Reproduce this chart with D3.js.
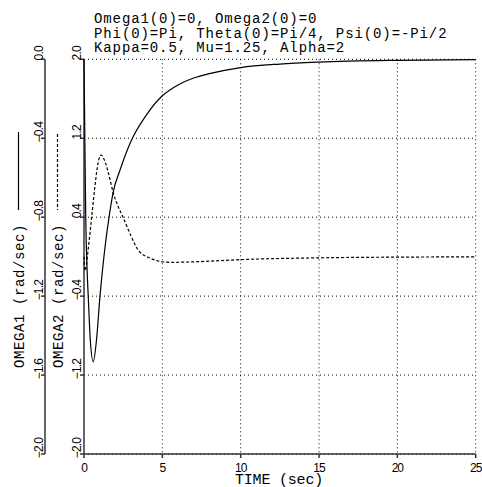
<!DOCTYPE html>
<html>
<head>
<meta charset="UTF-8">
<script src="https://cdn.jsdelivr.net/npm/d3@7"></script>
<style>
  body { margin: 0; background: #fff; }
  text { font-family: "Liberation Mono", monospace; fill: #000; }
  text.tick { font-family: "Liberation Sans", sans-serif; }
</style>
</head>
<body>
<svg id="chart" width="482" height="487"></svg>
<script>
// title lines
var titleLines = [
    "Omega1(0)=0, Omega2(0)=0",
    "Phi(0)=Pi, Theta(0)=Pi/4, Psi(0)=-Pi/2",
    "Kappa=0.5, Mu=1.25, Alpha=2"
];

// time axis
var timeTicks = [0, 5, 10, 15, 20, 25];
var omega1Ticks = [0, -0.4, -0.8, -1.2, -1.6, -2.0];
var omega2Ticks = [2.0, 1.2, 0.4, -0.4, -1.2, -2.0];

// Omega1 (solid): [time, rad/sec]
var omega1 = [
    [0, 0], [0.04, -0.3], [0.11, -0.8], [0.19, -1.05], [0.27, -1.2],
    [0.4, -1.42], [0.59, -1.533], [0.8, -1.42], [1.02, -1.2], [1.3, -0.98],
    [1.6, -0.8], [1.85, -0.678], [2.3, -0.561], [3.0, -0.415], [4.0, -0.28],
    [5.0, -0.185], [6.0, -0.13], [7.0, -0.095], [8.0, -0.073], [10, -0.042],
    [12.5, -0.024], [15, -0.014], [20, -0.005], [25, -0.002]
];

// Omega2 (dashed)
var omega2 = [
    [0, 0], [0.06, -0.14], [0.12, -0.12], [0.25, 0.05], [0.49, 0.40],
    [0.7, 0.72], [0.9, 0.95], [1.085, 1.03], [1.3, 0.98], [1.6, 0.82],
    [1.87, 0.644], [2.15, 0.52], [2.49, 0.40], [3.0, 0.21], [3.47, 0.064],
    [4.2, -0.014], [5.0, -0.052], [5.5, -0.058], [7.4, -0.05], [10, -0.03],
    [15, -0.012], [20, -0.005], [25, -0.002]
];

var svg = d3.select("#chart");

var plotLeft = 84, plotRight = 475.7, plotTop = 59.3, plotBottom = 454;
var x = d3.scaleLinear().domain([0, 25]).range([plotLeft, plotRight]);
var y1 = d3.scaleLinear().domain([-2, 0]).range([plotBottom, plotTop]);
var y2 = d3.scaleLinear().domain([-2, 2]).range([plotBottom, plotTop]);

function fmt(v) { return d3.format(".1f")(v); }

// dotted grid
var grid = svg.append("g")
    .attr("stroke", "#000")
    .attr("stroke-width", 1)
    .attr("stroke-dasharray", "1,3");

grid.selectAll("line.v")
    .data(timeTicks.slice(1))
    .enter().append("line")
    .attr("x1", function(d) { return x(d); })
    .attr("x2", function(d) { return x(d); })
    .attr("y1", plotTop)
    .attr("y2", plotBottom);

grid.selectAll("line.h")
    .data(omega2Ticks)
    .enter().append("line")
    .attr("x1", plotLeft)
    .attr("x2", plotRight)
    .attr("y1", function(d) { return y2(d); })
    .attr("y2", function(d) { return y2(d); });

// axes
var axes = svg.append("g").attr("stroke", "#333").attr("stroke-width", 1.5);
axes.append("line").attr("x1", 45).attr("x2", 45).attr("y1", plotTop).attr("y2", plotBottom);
axes.append("line").attr("x1", plotLeft).attr("x2", plotLeft).attr("y1", plotTop).attr("y2", plotBottom);
axes.append("line").attr("x1", plotLeft).attr("x2", plotRight).attr("y1", plotBottom).attr("y2", plotBottom);

axes.selectAll("line.t1")
    .data(omega1Ticks)
    .enter().append("line")
    .attr("x1", 41).attr("x2", 45)
    .attr("y1", function(d) { return y1(d); })
    .attr("y2", function(d) { return y1(d); });

axes.selectAll("line.t2")
    .data(omega2Ticks)
    .enter().append("line")
    .attr("x1", 80).attr("x2", plotLeft)
    .attr("y1", function(d) { return y2(d); })
    .attr("y2", function(d) { return y2(d); });

axes.selectAll("line.tx")
    .data(timeTicks)
    .enter().append("line")
    .attr("x1", function(d) { return x(d); })
    .attr("x2", function(d) { return x(d); })
    .attr("y1", plotBottom)
    .attr("y2", plotBottom + 4);

// tick labels
svg.selectAll("text.l1")
    .data(omega1Ticks)
    .enter().append("text")
    .attr("class", "tick")
    .attr("transform", function(d) { return "translate(42.5," + (y1(d) - 6) + ") rotate(-90)"; })
    .attr("text-anchor", "middle")
    .attr("font-size", 12)
    .attr("letter-spacing", -0.8)
    .text(fmt);

svg.selectAll("text.l2")
    .data(omega2Ticks)
    .enter().append("text")
    .attr("class", "tick")
    .attr("transform", function(d) { return "translate(80.5," + (y2(d) - 6) + ") rotate(-90)"; })
    .attr("text-anchor", "middle")
    .attr("font-size", 12)
    .attr("letter-spacing", -0.8)
    .text(fmt);

svg.selectAll("text.lx")
    .data(timeTicks)
    .enter().append("text")
    .attr("class", "tick")
    .attr("x", function(d) { return x(d); })
    .attr("y", 471.5)
    .attr("text-anchor", "middle")
    .attr("font-size", 12)
    .attr("letter-spacing", -1)
    .text(function(d) { return d; });

// axis titles
svg.append("text")
    .attr("x", 279).attr("y", 484)
    .attr("text-anchor", "middle")
    .attr("font-size", 15)
    .attr("letter-spacing", -0.2)
    .text("TIME (sec)");

svg.append("text")
    .attr("transform", "translate(24,368) rotate(-90)")
    .attr("font-size", 14)
    .attr("letter-spacing", 0.6)
    .text("OMEGA1 (rad/sec)");

svg.append("text")
    .attr("transform", "translate(63,368) rotate(-90)")
    .attr("font-size", 14)
    .attr("letter-spacing", 0.6)
    .text("OMEGA2 (rad/sec)");

// legend samples
svg.append("line")
    .attr("x1", 18.5).attr("x2", 18.5).attr("y1", 132).attr("y2", 210)
    .attr("stroke", "#000").attr("stroke-width", 1.2);
svg.append("line")
    .attr("x1", 57.5).attr("x2", 57.5).attr("y1", 134).attr("y2", 210)
    .attr("stroke", "#000").attr("stroke-width", 1.2)
    .attr("stroke-dasharray", "3,2");

// title
svg.selectAll("text.title")
    .data(titleLines)
    .enter().append("text")
    .attr("x", 94)
    .attr("y", function(d, i) { return 23.3 + i * 14.2; })
    .attr("font-size", 14)
    .attr("letter-spacing", 0.9)
    .text(function(d) { return d; });

// curves
var line1 = d3.line()
    .x(function(d) { return x(d[0]); })
    .y(function(d) { return y1(d[1]); })
    .curve(d3.curveMonotoneX);

var line2 = d3.line()
    .x(function(d) { return x(d[0]); })
    .y(function(d) { return y2(d[1]); })
    .curve(d3.curveMonotoneX);

svg.append("path")
    .datum(omega1)
    .attr("d", line1)
    .attr("fill", "none")
    .attr("stroke", "#000")
    .attr("stroke-width", 1.2);

svg.append("path")
    .datum(omega2)
    .attr("d", line2)
    .attr("fill", "none")
    .attr("stroke", "#000")
    .attr("stroke-width", 1.2)
    .attr("stroke-dasharray", "3,2");
</script>
</body>
</html>
